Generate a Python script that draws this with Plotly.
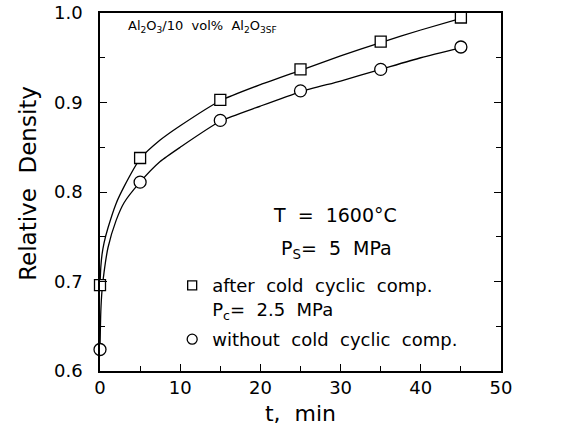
import plotly.graph_objects as go

# measured points
t_data = [0, 5, 15, 25, 35, 45]
rd_after = [0.696, 0.838, 0.903, 0.937, 0.968, 0.995]
rd_without = [0.624, 0.811, 0.880, 0.913, 0.937, 0.962]

# fitted curves
t_fit = [0, 0.1, 0.25, 0.5, 1, 2, 3, 5, 7.5, 10, 15, 20, 25, 30, 35, 40, 45]
fit_after = [0.696, 0.716, 0.730, 0.743, 0.760, 0.787, 0.806, 0.837, 0.858, 0.874,
             0.902, 0.920, 0.936, 0.952, 0.967, 0.981, 0.994]
fit_without = [0.624, 0.666, 0.690, 0.710, 0.738, 0.768, 0.788, 0.811, 0.834, 0.850,
               0.879, 0.896, 0.912, 0.924, 0.937, 0.950, 0.961]

x_ticks = [0, 10, 20, 30, 40, 50]
y_ticks = [0.6, 0.7, 0.8, 0.9, 1.0]

FONT = "DejaVu Sans"
LINE = dict(color="black", width=1.3, shape="spline", smoothing=0.6)

fig = go.Figure()
fig.add_trace(go.Scatter(x=t_fit, y=fit_after, mode="lines", line=LINE,
                         showlegend=False, cliponaxis=False, hoverinfo="skip"))
fig.add_trace(go.Scatter(x=t_fit, y=fit_without, mode="lines", line=LINE,
                         showlegend=False, cliponaxis=False, hoverinfo="skip"))
fig.add_trace(go.Scatter(x=t_data, y=rd_after, mode="markers", cliponaxis=False, showlegend=False,
                         marker=dict(symbol="square", size=11, color="white", line=dict(color="black", width=1.3))))
fig.add_trace(go.Scatter(x=t_data, y=rd_without, mode="markers", cliponaxis=False, showlegend=False,
                         marker=dict(symbol="circle", size=12, color="white", line=dict(color="black", width=1.3))))
# legend keys (smaller symbols, as in the reference)
fig.add_trace(go.Scatter(x=[None], y=[None], mode="markers", legendgroup="a",
                         name="after  cold  cyclic  comp.<br>P<sub>c</sub>=  2.5  MPa",
                         marker=dict(symbol="square", size=9, color="white", line=dict(color="black", width=1.3))))
fig.add_trace(go.Scatter(x=[None], y=[None], mode="markers", legendgroup="b",
                         name="without  cold  cyclic  comp.",
                         marker=dict(symbol="circle", size=10, color="white", line=dict(color="black", width=1.3))))

fig.add_annotation(x=0.064, y=0.962, xref="paper", yref="paper", xanchor="left", yanchor="middle",
                   text="Al<sub>2</sub>O<sub>3</sub>/10  vol%  Al<sub>2</sub>O<sub>3SF</sub>", showarrow=False,
                   font=dict(family=FONT, size=13, color="black"))
fig.add_annotation(x=0.586, y=0.435, xref="paper", yref="paper", xanchor="center", yanchor="middle",
                   text="T  =  1600°C", showarrow=False, font=dict(family=FONT, size=19, color="black"))
fig.add_annotation(x=0.59, y=0.338, xref="paper", yref="paper", xanchor="center", yanchor="middle",
                   text="P<sub>S</sub>=  5  MPa", showarrow=False, font=dict(family=FONT, size=19, color="black"))
# y-axis title
fig.add_annotation(x=-0.18, y=0.525, xref="paper", yref="paper", xanchor="center", yanchor="middle",
                   text="Relative  Density", textangle=-90, showarrow=False,
                   font=dict(family=FONT, size=23, color="black"))

axis_common = dict(showline=True, linecolor="black", linewidth=1.5, showgrid=False, zeroline=False,
                   ticks="inside", tickcolor="black", ticklen=7, tickwidth=1.2, automargin=False,
                   ticklabeloverflow="allow",
                   tickfont=dict(family=FONT, size=18, color="black"))

fig.update_xaxes(range=[0, 50], tickvals=x_ticks, mirror=True,
                 minor=dict(dtick=5, ticks="inside", ticklen=5, tickcolor="black"),
                 title=dict(text="t,  min", font=dict(family=FONT, size=22, color="black"), standoff=8),
                 **axis_common)
fig.update_yaxes(range=[0.6, 1.0], tickvals=y_ticks, tickformat=".1f", mirror="allticks",
                 minor=dict(dtick=0.05, ticks="inside", ticklen=5, tickcolor="black"),
                 ticklabelstandoff=12,
                 **axis_common)

fig.update_layout(
    width=565, height=433,
    margin=dict(l=100, r=64, t=13, b=62, autoexpand=False),
    paper_bgcolor="white", plot_bgcolor="white",
    font=dict(family=FONT, color="black"),
    legend=dict(x=0.18, y=0.29, xanchor="left", yanchor="top", bgcolor="rgba(0,0,0,0)",
                font=dict(family=FONT, size=18, color="black"), tracegroupgap=4, valign="top",
                itemwidth=30),
)

fig.write_html("out.html", config={"displayModeBar": False},
               post_script="document.body.style.margin='0px';")
